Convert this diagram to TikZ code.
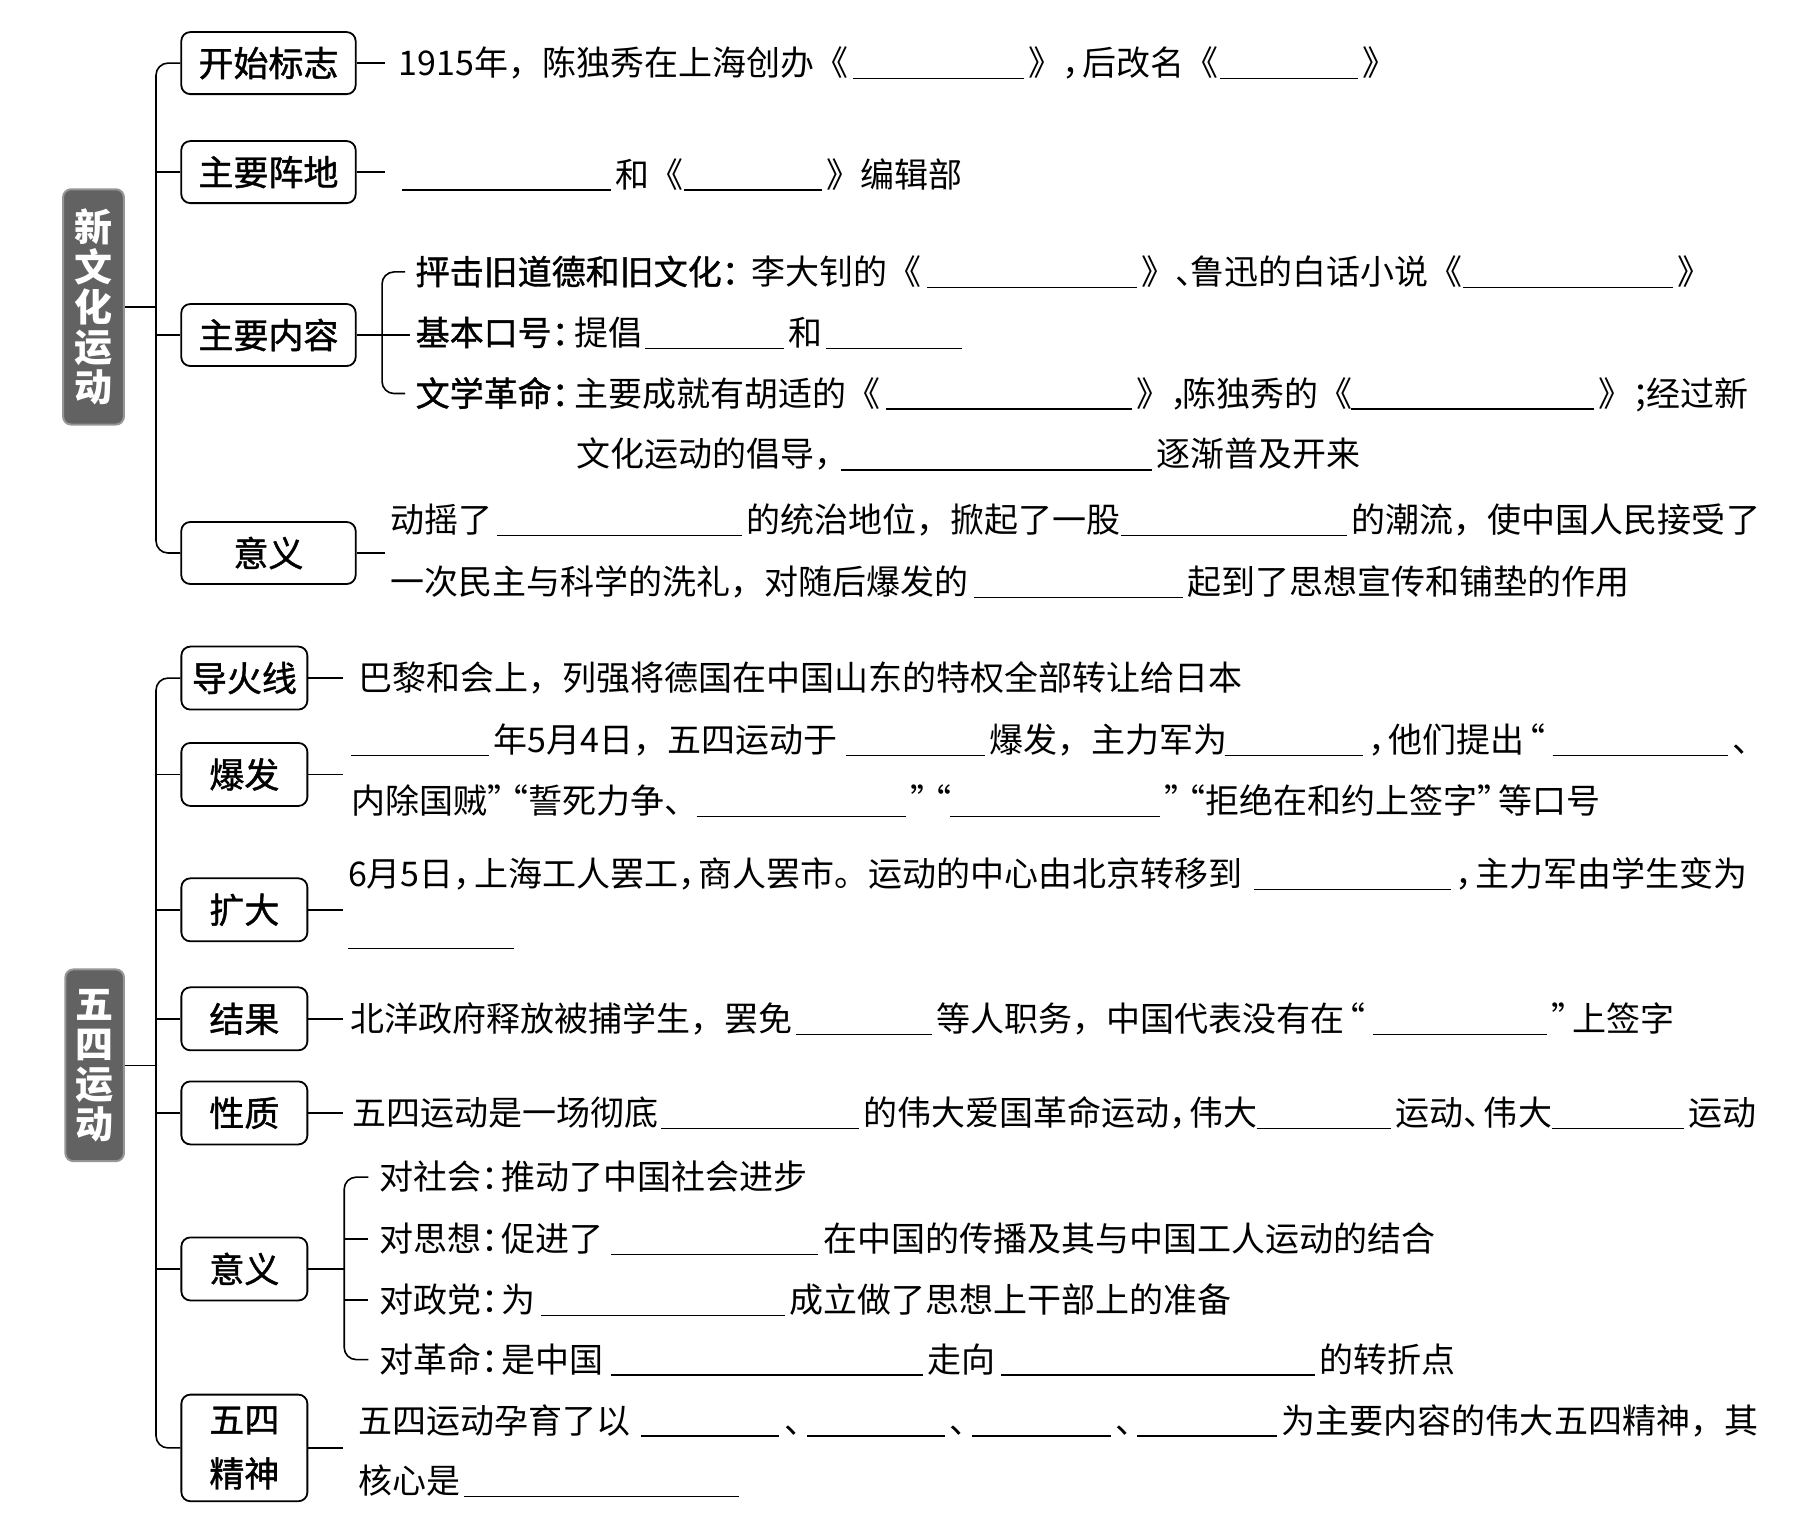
\documentclass[tikz,border=0pt]{standalone}
\usepackage{fontspec}
\setmainfont{Noto Sans CJK SC}
\newfontfamily\medfont{Noto Sans CJK SC}[FakeBold=1.2]
\definecolor{gfill}{RGB}{98,98,98}
\definecolor{gedge}{RGB}{150,150,150}
\newdimen\unitpx \unitpx=0.5736pt
\newcommand\Tx[2]{\makebox[#1\unitpx][l]{#2}}
\newcommand\Bk[1]{\makebox[#1\unitpx][l]{\rule[-1.8pt]{\dimexpr#1\unitpx-4\unitpx\relax}{0.7pt}}}
\newcommand\ncm{\makebox[0.6em][l]{，}}
\newcommand\ncl{\makebox[0.6em][l]{：}}
\newcommand\ndn{\makebox[0.6em][l]{、}}
\newcommand\nsc{\makebox[0.6em][l]{；}}
\newcommand\oq{\makebox[0.6em][r]{“}}
\newcommand\cq{\makebox[0.6em][l]{”}}
\begin{document}
\begin{tikzpicture}[x=0.5736pt,y=-0.5736pt,
  txt/.style={anchor=base west,inner sep=0pt,font=\fontsize{17}{20}\selectfont},
  lab/.style={draw,line width=0.9pt,rounded corners=4.5pt,align=center,inner sep=0pt,font=\fontsize{17.5}{27}\medfont},
  labA/.style={lab,minimum width=87.2pt,minimum height=31pt},
  labB/.style={lab,minimum width=63pt,minimum height=31.5pt},
  gbox/.style={fill=gfill,draw=gedge,line width=1pt,rounded corners=4pt,text=white,align=center,inner sep=0pt,font=\fontsize{19}{20}\selectfont\bfseries},
  conn/.style={line width=0.8pt,rounded corners=6pt}]
\useasboundingbox (0,0) rectangle (1568,1325);

% ---------- section 1 ----------
\node[gbox,minimum width=30.4pt,minimum height=117.6pt] (g1) at (81.5,267.5) {新\\文\\化\\运\\动};
\node[labA] (k1) at (234,55) {开始标志};
\node[labA] (k2) at (234,150) {主要阵地};
\node[labA] (k3) at (234,292) {主要内容};
\node[labA] (k4) at (234,482) {意义};
\coordinate (tr1) at (136,267.5);
\draw[conn] (k1.west) -- (k1.west -| tr1) -- (k4.west -| tr1) -- (k4.west);
\draw[conn] (k2.west -| tr1) -- (k2.west);
\draw[conn] (k3.west -| tr1) -- (k3.west);
\draw[conn] (g1.east) -- (tr1);
\draw[conn] (k1.east) -- ++(25,0);
\draw[conn] (k2.east) -- ++(25,0);
\draw[conn] (k4.east) -- ++(25,0);
\coordinate (b1) at (333,292);
\coordinate (b1e) at (357,292);
\coordinate (h1) at (353,237);
\coordinate (h2) at (353,343);
\draw[conn] (k3.east) -- (b1e);
\draw[conn] (h1) -| (b1) |- (h2);

\node[txt] (tA) at (347,66) {\Tx{396}{1915年，陈独秀在上海创办《}\Bk{153}\Tx{167}{》\ncm 后改名《}\Bk{124}》};
\node[txt] (tB) at (350,163) {\Bk{186}\Tx{60}{和《}\Bk{124}》编辑部};
\node[txt] (tC) at (362,248) {\Tx{293}{\medfont 抨击旧道德和旧文化\ncl}\Tx{153}{李大钊的《}\Bk{187}\Tx{42}{》\ndn}\Tx{238}{鲁迅的白话小说《}\Bk{187}》};
\node[txt] (tD) at (362,301) {\Tx{138}{\medfont 基本口号\ncl}\Tx{62}{提倡}\Bk{125}\Tx{33}{和}\Bk{122}};
\node[txt] (tE) at (362,354) {\Tx{138}{\medfont 文学革命\ncl}\Tx{272}{主要成就有胡适的《}\Bk{218}\Tx{40}{》\ncm}\Tx{147}{陈独秀的《}\Bk{216}\Tx{42}{》\nsc}经过新};
\node[txt] (tF) at (502,407) {\Tx{231}{文化运动的倡导\ncm}\Bk{275}逐渐普及开来};
\node[txt] (tG) at (340,464) {\Tx{93}{动摇了}\Bk{217}\Tx{327}{的统治地位，掀起了一股}\Bk{201}的潮流，使中国人民接受了};
\node[txt] (tH) at (340,518) {\Tx{509}{一次民主与科学的洗礼，对随后爆发的}\Bk{186}起到了思想宣传和铺垫的作用};

% ---------- section 2 ----------
\node[gbox,minimum width=29.3pt,minimum height=95.8pt] (g2) at (82.5,928.5) {五\\四\\运\\动};
\node[labB] (m1) at (213,591) {导火线};
\node[labB] (m2) at (213,675) {爆发};
\node[labB] (m3) at (213,793) {扩大};
\node[labB] (m4) at (213,888) {结果};
\node[labB] (m5) at (213,970) {性质};
\node[labB] (m6) at (213,1106) {意义};
\node[labB,minimum height=53.3pt] (m7) at (213,1262) {五四\\精神};
\coordinate (tr2) at (136,928.5);
\draw[conn] (m1.west) -- (m1.west -| tr2) -- (m7.west -| tr2) -- (m7.west);
\foreach \m in {m2,m3,m4,m5,m6} \draw[conn] (\m.west -| tr2) -- (\m.west);
\draw[conn] (g2.east) -- (tr2);
\foreach \m in {m1,m2,m3,m4,m5,m7} \draw[conn] (\m.east) -- ++(30,0);
\coordinate (b2) at (300,1106);
\coordinate (s1) at (321,1026);
\coordinate (s2) at (321,1080);
\coordinate (s3) at (321,1133);
\coordinate (s4) at (321,1185);
\draw[conn] (m6.east) -- (b2);
\draw[conn] (s1) -| (b2) |- (s4);
\draw[conn] (s2 -| b2) -- (s2);
\draw[conn] (s3 -| b2) -- (s3);

\node[txt] (u1) at (312,602) {巴黎和会上，列强将德国在中国山东的特权全部转让给日本};
\node[txt] (u2) at (306,656) {\Bk{124}\Tx{307}{年5月4日，五四运动于}\Bk{125}\Tx{205}{爆发，主力军为}\Bk{125}\Tx{18}{，}\Tx{143}{他们提出\oq}\Bk{157}、};
\node[txt] (u3) at (306,709) {\Tx{301}{内除国贼\cq\oq 誓死力争、}\Bk{186}\Tx{35}{\cq\oq}\Bk{187}\cq\oq 拒绝在和约上签字\cq 等口号};
\node[txt] (u4) at (303,773) {\Tx{790}{6月5日\ncm 上海工人罢工\ncm 商人罢市。运动的中心由北京转移到}\Bk{175}\ncm 主力军由学生变为};
\node[txt] (u5) at (303,824) {\Bk{149}};
\node[txt] (u6) at (305,899) {\Tx{388}{北洋政府释放被捕学生，罢免}\Bk{123}\Tx{380}{等人职务，中国代表没有在\oq}\Bk{156}\cq 上签字};
\node[txt] (u7) at (307,981) {\Tx{269}{五四运动是一场彻底}\Bk{176}\Tx{343}{的伟大爱国革命运动\ncm 伟大}\Bk{121}\Tx{136}{运动\ndn 伟大}\Bk{119}运动};
\node[txt] (u8) at (330,1037) {对社会\ncl 推动了中国社会进步};
\node[txt] (u9) at (330,1091) {\Tx{202}{对思想\ncl 促进了}\Bk{185}在中国的传播及其与中国工人运动的结合};
\node[txt] (u10) at (330,1144) {\Tx{141}{对政党\ncl 为}\Bk{217}成立做了思想上干部上的准备};
\node[txt] (u11) at (330,1196) {\Tx{202}{对革命\ncl 是中国}\Bk{276}\Tx{64}{走向}\Bk{278}的转折点};
\node[txt] (u12) at (312,1249) {\Tx{246}{五四运动孕育了以}\Bk{125}\Tx{20}{、}\Bk{124}\Tx{20}{、}\Bk{125}\Tx{19}{、}\Bk{126}为主要内容的伟大五四精神，其};
\node[txt] (u13) at (312,1302) {\Tx{92}{核心是}\Bk{244}};
\end{tikzpicture}
\end{document}
